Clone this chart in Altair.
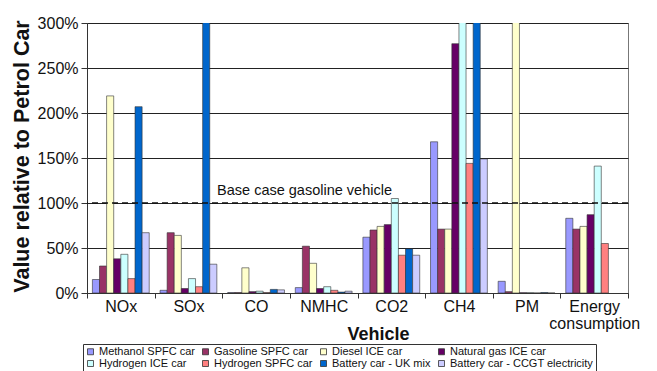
import altair as alt
import pandas as pd

# Emission categories along the x axis
categories = ["NOx", "SOx", "CO", "NMHC", "CO2", "CH4", "PM", "Energy consumption"]

# Vehicle types (legend order) and their fill colours
vehicles = [
    "Methanol SPFC car", "Gasoline SPFC car", "Diesel ICE car", "Natural gas ICE car",
    "Hydrogen ICE car", "Hydrogen SPFC car", "Battery car - UK mix", "Battery car - CCGT electricity",
]
colors = ["#9999FF", "#993366", "#FFFFCC", "#660066", "#CCFFFF", "#FF8080", "#0066CC", "#CCCCFF"]

# Values relative to the petrol car (1.0 = 100%), one entry per category
methanol_spfc = [0.15, 0.03, 0.005, 0.06, 0.62, 1.68, 0.13, 0.83]
gasoline_spfc = [0.30, 0.67, 0.005, 0.52, 0.70, 0.71, 0.015, 0.71]
diesel_ice = [2.19, 0.64, 0.28, 0.33, 0.74, 0.71, 3.40, 0.74]
natural_gas_ice = [0.38, 0.05, 0.015, 0.05, 0.76, 2.77, 0.003, 0.87]
hydrogen_ice = [0.43, 0.16, 0.02, 0.07, 1.05, 3.40, 0.003, 1.41]
hydrogen_spfc = [0.16, 0.07, 0.005, 0.03, 0.42, 1.44, 0.0, 0.55]
battery_uk_mix = [2.07, 3.40, 0.04, 0.01, 0.49, 3.40, 0.005, None]
battery_ccgt = [0.67, 0.32, 0.035, 0.02, 0.42, 1.49, 0.0, None]

series_values = [methanol_spfc, gasoline_spfc, diesel_ice, natural_gas_ice,
                 hydrogen_ice, hydrogen_spfc, battery_uk_mix, battery_ccgt]

y_ticks = [0, 0.5, 1.0, 1.5, 2.0, 2.5, 3.0]
base_case = [1.0]

rows = []
for name, vals in zip(vehicles, series_values):
    for cat, v in zip(categories, vals):
        if v is not None:
            rows.append({"emission": cat, "vehicle": name, "value": v})
df = pd.DataFrame(rows)
base_df = pd.DataFrame({"level": base_case})

FONT = "Arial, Liberation Sans, sans-serif"

bars = alt.Chart(df).mark_bar(clip=True, stroke="#333333", strokeWidth=0.6).encode(
    x=alt.X(
        "emission:N", sort=categories,
        scale=alt.Scale(paddingInner=0, paddingOuter=0),
        axis=alt.Axis(
            title="Vehicle", grid=False, tickBand="extent", tickSize=5,
            labelAngle=0, labelFontSize=16, labelPadding=0, labelLineHeight=17,
            labelExpr="datum.value == 'Energy consumption' ? ['Energy', 'consumption'] : datum.value",
            titleFontSize=18, titleFontWeight="bold", titleX=291, titleY=46,
            titleBaseline="alphabetic",
        ),
    ),
    xOffset=alt.XOffset("vehicle:N", sort=vehicles,
                        scale=alt.Scale(paddingOuter=0.76, paddingInner=0)),
    y=alt.Y(
        "value:Q",
        scale=alt.Scale(domain=[0, 3], nice=False),
        axis=alt.Axis(
            title="Value relative to Petrol Car", format=".0%", values=y_ticks,
            tickSize=6, labelPadding=3, labelFontSize=16,
            gridColor="#222222", gridWidth=1,
            titleFontSize=21.5, titleFontWeight="bold", titleX=-65, titleY=133,
            titleBaseline="middle",
        ),
    ),
    color=alt.Color(
        "vehicle:N", sort=vehicles,
        scale=alt.Scale(domain=vehicles, range=colors),
        legend=alt.Legend(
            title=None, orient="none", legendX=-4, legendY=321, columns=4,
            direction="horizontal",
            symbolType="square", symbolSize=36, symbolStrokeColor="#333333",
            symbolStrokeWidth=0.8, labelFontSize=11, labelOffset=3,
            rowPadding=0, columnPadding=5, padding=2, gridAlign="each",
            strokeColor="#333333", fillColor="white",
        ),
    ),
)

base_line = alt.Chart(base_df).mark_rule(
    strokeDash=[6, 4], color="#111111", strokeWidth=1.5
).encode(y="level:Q")

base_label = alt.Chart(base_df).mark_text(
    align="left", baseline="alphabetic", dx=-39, dy=-8, fontSize=14.5, color="#111111"
).encode(
    x=alt.datum("CO"),
    y="level:Q",
    text=alt.value("Base case gasoline vehicle"),
)

chart = alt.layer(bars, base_line, base_label).properties(
    width=541, height=270,
    padding={"left": 87, "top": 23, "right": 29, "bottom": 78},
    autosize=alt.AutoSizeParams(type="none"),
).configure(font=FONT).configure_axis(
    labelFont=FONT, titleFont=FONT, labelColor="#111111", titleColor="#111111",
    domainColor="#333333", tickColor="#333333",
).configure_legend(
    labelFont=FONT, labelColor="#111111",
).configure_view(stroke="#777777", strokeWidth=1)

chart.save("out.html", embed_options={"renderer": "svg", "actions": False})
